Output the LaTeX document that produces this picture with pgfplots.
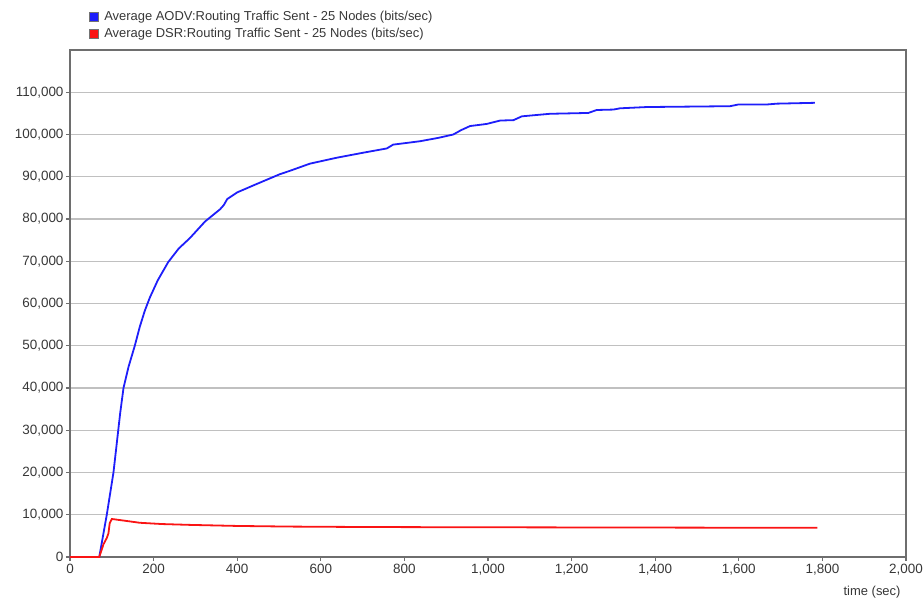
\documentclass[border=0pt]{standalone}
\usepackage{pgfplots}
\pgfplotsset{compat=1.18}
\usepackage{fontspec}
\setmainfont{Liberation Sans}

\definecolor{aodvblue}{RGB}{30,30,250}
\definecolor{dsrred}{RGB}{250,20,20}
\definecolor{gridgray}{RGB}{192,192,192}
\definecolor{framegray}{RGB}{110,110,110}
\definecolor{labelgray}{RGB}{55,55,55}

\begin{document}
\begin{tikzpicture}
\begin{axis}[
  scale only axis,
  width=836bp, height=507bp,
  xmin=0, xmax=2000,
  ymin=0, ymax=120000,
  scaled ticks=false,
  xtick={0,200,...,2000},
  xticklabels={0,200,400,600,800,{1,000},{1,200},{1,400},{1,600},{1,800},{2,000}},
  ytick={0,10000,...,110000},
  yticklabels={0,{10,000},{20,000},{30,000},{40,000},{50,000},{60,000},{70,000},{80,000},{90,000},{100,000},{110,000}},
  tick label style={font=\fontsize{13.5}{15}\selectfont, text=labelgray},
  yticklabel style={xshift=1bp},
  tick align=outside,
  major tick length=4bp,
  xtick pos=bottom, ytick pos=left,
  tick style={framegray, line width=1.2bp},
  axis line style={framegray, line width=1.8bp},
  ymajorgrids,
  major grid style={gridgray, line width=1.3bp},
  xlabel={time (sec)},
  xlabel style={at={(rel axis cs:1,0)}, anchor=north east, yshift=-26bp, xshift=-2bp,
                font=\fontsize{13}{15}\selectfont, text=labelgray},
  legend style={at={(rel axis cs:0.019,1.084)}, anchor=north west, draw=none, fill=none,
                font=\fontsize{13}{15}\selectfont, text=labelgray,
                row sep=3.5bp, nodes={inner ysep=1.5bp, inner xsep=2bp}},
  legend cell align=left,
  legend image code/.code={%
    \draw[#1, fill, draw=black!55, line width=0.6bp] (0bp,-4.3bp) rectangle (8.6bp,4.3bp);
    \path (12bp,0bp);},
  clip=false,
]
% AODV routing traffic sent
\addplot[aodvblue, line width=1.8bp] coordinates {
  (0,0) (70,0) (88,10000) (104,20000) (112,27000) (120,34000) (128,40000)
  (140,45000) (155,50000) (167,54500) (179,58300) (191,61400) (210,65500)
  (235,69800) (260,73000) (287,75500) (323,79400) (359,82300) (368,83300)
  (376,84700) (400,86300) (447,88300) (502,90600) (526,91400) (574,93100)
  (638,94500) (702,95700) (758,96700) (773,97600) (837,98400) (881,99200)
  (917,100000) (935,101000) (957,102000) (997,102500) (1029,103300)
  (1061,103400) (1081,104300) (1148,104900) (1240,105100) (1260,105800)
  (1300,105900) (1316,106200) (1380,106500) (1579,106700) (1599,107100)
  (1667,107100) (1691,107300) (1782,107500)
};
\addlegendentry{Average AODV:Routing Traffic Sent - 25 Nodes (bits/sec)}
% DSR routing traffic sent
\addplot[dsrred, line width=1.8bp] coordinates {
  (0,0) (70,0) (80,3000) (88,4500) (92,5600) (95,8000) (100,9000)
  (130,8600) (167,8100) (220,7800) (287,7600) (400,7350) (526,7200)
  (700,7100) (900,7050) (1200,7000) (1500,6950) (1788,6900)
};
\addlegendentry{Average DSR:Routing Traffic Sent - 25 Nodes (bits/sec)}
\coordinate (O) at (rel axis cs:0,0);
\end{axis}
\pgfresetboundingbox
\path (O) ++(-70bp,-45bp) rectangle ++(924bp,602bp);
\end{tikzpicture}
\end{document}
